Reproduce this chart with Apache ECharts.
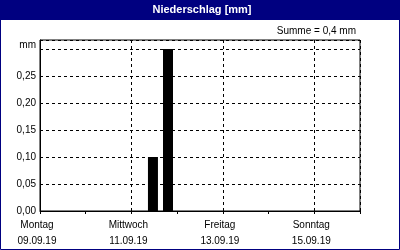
<!DOCTYPE html>
<html>
<head>
<meta charset="utf-8">
<script src="https://cdn.jsdelivr.net/npm/echarts@6/dist/echarts.min.js"></script>
<style>
html,body{margin:0;padding:0;background:#fff;}
#c{width:400px;height:250px;}
</style>
</head>
<body>
<div id="c"></div>
<script>
// ---- data ----
const chartTitle = 'Niederschlag [mm]';
const sumText = 'Summe = 0,4 mm';
const dayNames = ['Montag','Dienstag','Mittwoch','Donnerstag','Freitag','Samstag','Sonntag'];
const dayDates = ['09.09.19','10.09.19','11.09.19','12.09.19','13.09.19','14.09.19','15.09.19'];
// bar positions in hours since Montag 09.09.19 00:00
const barHours = [59.3, 67.2];
const barValues = [0.10, 0.30];
const yUnit = 'mm';
const yMin = 0, yMax = 0.3167, yStep = 0.05;
const xMin = 0, xMax = 168, dayStep = 24, labelStep = 48;

const FONT = 'Liberation Sans';
const chart = echarts.init(document.getElementById('c'), null, {renderer:'canvas'});

function yLabel(v){
  const k = v / yStep;
  if (Math.abs(k - Math.round(k)) > 1e-6) return '';
  const r = Math.round(k) * yStep;
  if (Math.abs(r - 0.30) < 1e-6) return '{u|' + yUnit + '}';
  return r.toFixed(2).replace('.', ',');
}
function xLabel(v){
  const d = Math.round(v / 24);
  if (Math.abs(v - d*24) > 1e-6 || d >= dayNames.length) return '';
  return dayNames[d] + '\n' + dayDates[d];
}

chart.setOption({
  animation:false,
  backgroundColor:'#ffffff',
  graphic:[
    {type:'rect', shape:{x:0.5,y:0.5,width:399,height:249}, style:{fill:null, stroke:'#000080', lineWidth:1}, z:100},
    {type:'rect', shape:{x:0,y:0,width:400,height:20}, style:{fill:'#000080'}, z:100},
    {type:'text', x:202, y:10, style:{text:chartTitle, fill:'#ffffff', font:'bold 11px "'+FONT+'"', textAlign:'center', textVerticalAlign:'middle'}, z:101},
    {type:'text', x:356, y:31, style:{text:sumText, fill:'#000000', font:'10px "'+FONT+'"', textAlign:'right', textVerticalAlign:'middle'}, z:101}
  ],
  grid:{left:40, right:40, top:40, bottom:39, show:true, borderColor:'#000', borderWidth:1, backgroundColor:'transparent'},
  xAxis:[
    {type:'value', min:xMin, max:xMax, interval:dayStep,
     axisLine:{show:true, lineStyle:{color:'#000', width:1}},
     axisTick:{show:true, length:3, lineStyle:{color:'#000'}},
     axisLabel:{show:false}, splitLine:{show:false}},
    {type:'value', min:xMin, max:xMax, interval:labelStep, position:'bottom',
     axisLine:{show:false}, axisTick:{show:false},
     axisLabel:{show:true, formatter:xLabel, color:'#000', fontFamily:FONT, fontSize:10, lineHeight:16, margin:6, padding:[0,6,0,0], showMaxLabel:false},
     splitLine:{show:true, lineStyle:{color:'#000', type:[3,3], width:1}}}
  ],
  yAxis:{type:'value', min:yMin, max:yMax, interval:yStep,
    axisLine:{show:true, lineStyle:{color:'#000'}},
    axisTick:{show:false},
    axisLabel:{formatter:yLabel, color:'#000', fontFamily:FONT, fontSize:10, margin:4,
      rich:{u:{fontFamily:FONT, fontSize:10, color:'#000', padding:[0,0,7,0]}}},
    splitLine:{show:true, lineStyle:{color:'#000', type:[3,3], width:1}}},
  series:[{
    type:'bar', xAxisIndex:0, barWidth:10,
    itemStyle:{color:'#000'},
    data: barHours.map((h,i)=>[h, barValues[i]])
  }]
});
</script>
</body>
</html>
